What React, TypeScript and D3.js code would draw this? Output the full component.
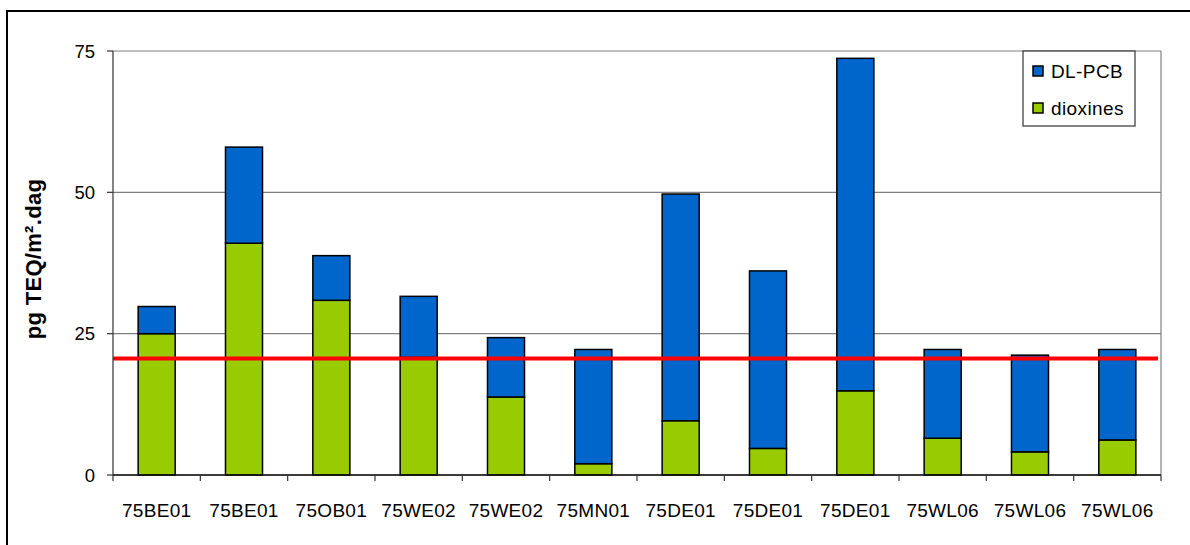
import React from "react";
import * as d3 from "d3";

const categories = ["75BE01", "75BE01", "75OB01", "75WE02", "75WE02", "75MN01", "75DE01", "75DE01", "75DE01", "75WL06", "75WL06", "75WL06"];
const dioxines = [25.0, 41.0, 30.9, 20.8, 13.8, 2.0, 9.6, 4.7, 14.9, 6.5, 4.1, 6.2];
const dlpcb = [4.8, 17.0, 7.9, 10.8, 10.5, 20.2, 40.1, 31.4, 58.8, 15.7, 17.1, 16.0];
const yTicks = [0, 25, 50, 75];
const normValue = 20.6;
const seriesNames = ["DL-PCB", "dioxines"];
const yTitle = "pg TEQ/m².dag";

const W = 1190;
const H = 545;
const left = 113;
const right = 1161;
const top = 51;
const bottom = 475;
const BLUE = "#0066CC";
const GREEN = "#99CC00";
const FONT = "'Liberation Sans', Arial, sans-serif";

export default function App() {
  const x = d3
    .scaleBand<number>()
    .domain(categories.map((_, i) => i))
    .range([left, right])
    .paddingInner(0.576)
    .paddingOuter(0.288);
  const y = d3.scaleLinear().domain([0, 75]).range([bottom, top]);
  const step = x.step();
  const boundaries = d3.range(categories.length + 1).map((i) => left + i * step);

  const stacked = categories.map((c, i) => ({
    i,
    d0: 0,
    d1: dioxines[i],
    p0: dioxines[i],
    p1: dioxines[i] + dlpcb[i],
  }));

  return (
    <svg
      width={W}
      height={H}
      style={{ position: "absolute", left: 0, top: 0, background: "#fff" }}
      fontFamily={FONT}
    >
      <rect x={0} y={0} width={W} height={H} fill="#fff" />
      {/* outer frame */}
      <rect x={7} y={11} width={W + 20} height={H + 20} fill="none" stroke="#000" strokeWidth={2} />

      {/* gridlines */}
      {yTicks.map((t) => (
        <line key={"g" + t} x1={left} x2={right} y1={y(t)} y2={y(t)} stroke="#808080" strokeWidth={1.2} />
      ))}
      {/* plot border right */}
      <line x1={right} x2={right} y1={top} y2={bottom} stroke="#808080" strokeWidth={1.2} />

      {/* bars */}
      {stacked.map((s) => (
        <g key={"b" + s.i}>
          <rect
            x={x(s.i)}
            y={y(s.d1)}
            width={x.bandwidth()}
            height={y(s.d0) - y(s.d1)}
            fill={GREEN}
            stroke="#000"
            strokeWidth={1.5}
          />
          <rect
            x={x(s.i)}
            y={y(s.p1)}
            width={x.bandwidth()}
            height={y(s.p0) - y(s.p1)}
            fill={BLUE}
            stroke="#000"
            strokeWidth={1.5}
          />
        </g>
      ))}

      {/* norm line */}
      <line x1={left} x2={right - 3} y1={y(normValue)} y2={y(normValue)} stroke="#FF0000" strokeWidth={4} />

      {/* axes */}
      <line x1={left} x2={left} y1={top} y2={bottom} stroke="#333" strokeWidth={1.2} />
      <line x1={left} x2={right} y1={bottom} y2={bottom} stroke="#111" strokeWidth={1.5} />
      {yTicks.map((t) => (
        <g key={"yt" + t}>
          <line x1={left - 6} x2={left} y1={y(t)} y2={y(t)} stroke="#333" strokeWidth={1.2} />
          <text x={left - 18} y={y(t)} textAnchor="end" dominantBaseline="central" fontSize={18.5} fill="#000">
            {t}
          </text>
        </g>
      ))}
      {boundaries.map((bx, i) => (
        <line key={"xt" + i} x1={bx} x2={bx} y1={bottom} y2={bottom + 6} stroke="#333" strokeWidth={1.2} />
      ))}
      {categories.map((c, i) => (
        <text
          key={"xl" + i}
          x={(x(i) as number) + x.bandwidth() / 2}
          y={510}
          textAnchor="middle"
          dominantBaseline="central"
          fontSize={19}
          letterSpacing={0.3}
          fill="#000"
        >
          {c}
        </text>
      ))}

      {/* y title */}
      <text
        transform={`translate(33, ${(top + bottom) / 2 - 4}) rotate(-90)`}
        textAnchor="middle"
        dominantBaseline="central"
        fontSize={22}
        fontWeight="bold"
        letterSpacing={0.3}
        fill="#000"
      >
        {yTitle}
      </text>

      {/* legend */}
      <rect x={1023} y={top} width={112} height={75} fill="#fff" stroke="#333" strokeWidth={1.2} />
      {seriesNames.map((n, i) => (
        <g key={"lg" + n}>
          <rect
            x={1033}
            y={66 + i * 37}
            width={10}
            height={10}
            fill={i === 0 ? BLUE : GREEN}
            stroke="#000"
            strokeWidth={1.5}
          />
          <text x={1051} y={71 + i * 37} dominantBaseline="central" fontSize={19} letterSpacing={0.4} fill="#000">
            {n}
          </text>
        </g>
      ))}
    </svg>
  );
}
